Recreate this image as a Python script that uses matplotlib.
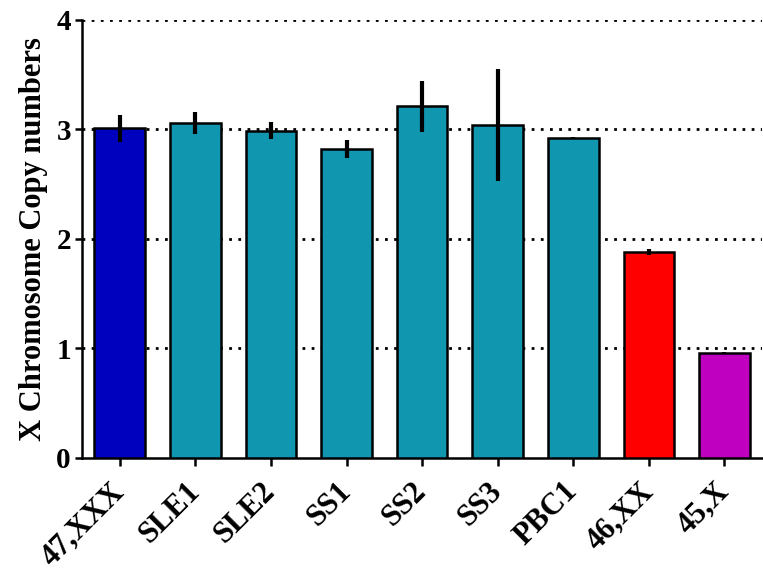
import numpy as np
import matplotlib.pyplot as plt

labels = ['47,XXX', 'SLE1', 'SLE2', 'SS1', 'SS2', 'SS3', 'PBC1', '46,XX', '45,X']
means = [3.01, 3.06, 2.99, 2.82, 3.21, 3.04, 2.92, 1.88, 0.96]
errors = [0.12, 0.10, 0.08, 0.08, 0.23, 0.51, 0.01, 0.03, 0.01]
colors = ['#0000bf', '#1196b0', '#1196b0', '#1196b0', '#1196b0', '#1196b0', '#1196b0',
          '#ff0000', '#c000c0']

plt.rcParams['font.family'] = ['Liberation Serif', 'DejaVu Serif']
plt.rcParams['font.weight'] = 'bold'

fig = plt.figure(figsize=(7.63, 5.70), dpi=100)
ax = fig.add_axes([0.1075, 0.1965, 0.8915, 0.7685])

x = np.arange(len(labels))
ax.bar(x, means, width=0.67, color=colors, edgecolor='black', linewidth=1.8, zorder=3)
ax.errorbar(x, means, yerr=errors, fmt='none', ecolor='black', elinewidth=3,
            capsize=0, zorder=4)

for yv in [1, 2, 3, 4]:
    ax.axhline(yv, color='black', linestyle=(0, (1, 2.3)), linewidth=2, zorder=1)

ax.set_xlim(-0.5, 8.5)
ax.set_ylim(0, 4)
ax.set_yticks([0, 1, 2, 3, 4])
ax.set_xticks(x)
ax.set_xticklabels(labels, rotation=45, ha='right', va='center', rotation_mode='anchor',
                   fontsize=22, fontweight='bold')
ax.tick_params(axis='y', labelsize=21, width=1.8, length=5, pad=3, direction='out')
ax.tick_params(axis='x', width=1.8, length=6, pad=15, direction='out')
ax.set_ylabel('X Chromosome Copy numbers', fontsize=22, fontweight='bold', labelpad=6)

for side in ['top', 'right']:
    ax.spines[side].set_visible(False)
for side in ['left', 'bottom']:
    ax.spines[side].set_linewidth(1.8)

fig.savefig('out.png', dpi=100)
